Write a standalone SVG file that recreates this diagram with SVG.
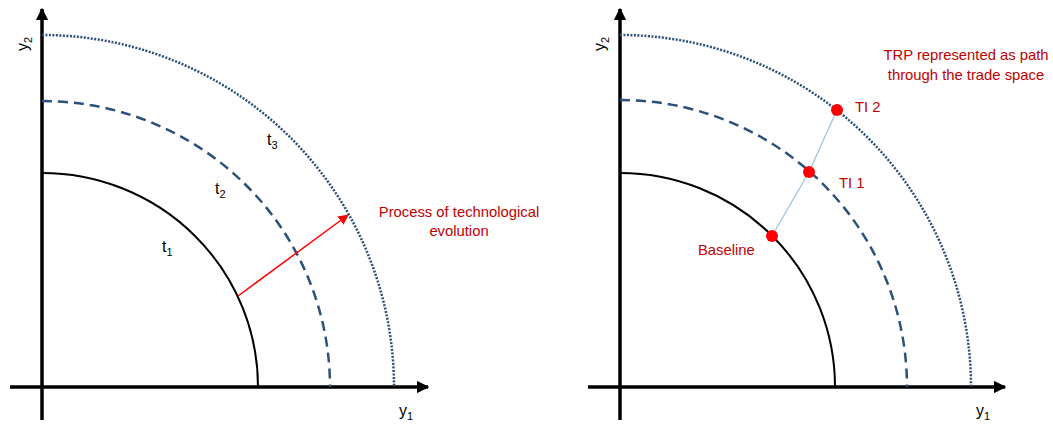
<svg xmlns="http://www.w3.org/2000/svg" width="1053" height="425" viewBox="0 0 1053 425">
<style>
.axis{stroke:#000;stroke-width:3.5;fill:none}
.solid{stroke:#000;stroke-width:2;fill:none}
.dash{stroke:#2B5079;stroke-width:2.5;fill:none;stroke-dasharray:10 6}
.dot{stroke:#2B5079;stroke-width:2.5;fill:none;stroke-dasharray:2 1.5}
.lbl{font-family:"Liberation Sans",Arial,sans-serif;font-size:16px;fill:#000}
.red{font-family:"Liberation Sans",Arial,sans-serif;font-size:14.8px;fill:#C00000}
.pt{fill:#FF0000}
</style>
<defs>
<marker id="ah" viewBox="0 0 10 10" refX="9" refY="5" markerWidth="3.6" markerHeight="3.6" orient="auto" markerUnits="strokeWidth">
<path d="M0,0 L10,5 L0,10 z" fill="#000"/>
</marker>
<marker id="rah" viewBox="0 0 10 10" refX="9" refY="5" markerWidth="7" markerHeight="7" orient="auto" markerUnits="strokeWidth">
<path d="M0,0 L10,5 L0,10 z" fill="#FF0000"/>
</marker>
</defs>
<g id="left-panel">
<g id="left-axes">
<line class="axis" x1="42" y1="420" x2="42" y2="9" marker-end="url(#ah)"/>
<line class="axis" x1="10" y1="387" x2="428" y2="387" marker-end="url(#ah)"/>
<text class="lbl" transform="translate(28,44) rotate(-90)" text-anchor="middle">y<tspan font-size="11" dy="4">2</tspan></text>
<text class="lbl" x="399" y="416">y<tspan font-size="11" dy="4">1</tspan></text>
</g>
<g id="left-t1"><path class="solid" d="M42,173 A216,214 0 0 1 258,387"/><text class="lbl" x="162" y="252">t<tspan font-size="11" dy="4">1</tspan></text></g>
<g id="left-t2"><path class="dash" d="M42,101 A288,286 0 0 1 330,387"/><text class="lbl" x="215" y="194">t<tspan font-size="11" dy="4">2</tspan></text></g>
<g id="left-t3"><path class="dot" d="M42,35 A352,352 0 0 1 394,387"/><text class="lbl" x="267" y="145">t<tspan font-size="11" dy="4">3</tspan></text></g>
<g id="left-connector"><line x1="238" y1="296" x2="348" y2="215" stroke="#FF0000" stroke-width="1.5" marker-end="url(#rah)"/></g>
<g id="left-label"><text class="red" text-anchor="middle"><tspan x="459" y="217">Process of technological</tspan><tspan x="459" y="236">evolution</tspan></text></g>
</g>
<g id="right-panel">
<g id="right-axes">
<line class="axis" x1="620" y1="420" x2="620" y2="9" marker-end="url(#ah)"/>
<line class="axis" x1="588" y1="387" x2="1005" y2="387" marker-end="url(#ah)"/>
<text class="lbl" transform="translate(605,44) rotate(-90)" text-anchor="middle">y<tspan font-size="11" dy="4">2</tspan></text>
<text class="lbl" x="976" y="416">y<tspan font-size="11" dy="4">1</tspan></text>
</g>
<g id="right-t1"><path class="solid" d="M620,173 A215,214 0 0 1 835,387"/></g>
<g id="right-t2"><path class="dash" d="M620,100 A287,287 0 0 1 907,387"/></g>
<g id="right-t3"><path class="dot" d="M620,35 A351,352 0 0 1 971,387"/></g>
<g id="connectors"><polyline points="772,236 809,172 837,110" fill="none" stroke="#9DC3E6" stroke-width="1.3"/></g>
<g id="baseline"><circle class="pt" cx="772" cy="236" r="6"/><text class="red" x="698" y="255">Baseline</text></g>
<g id="ti1"><circle class="pt" cx="809" cy="172" r="6"/><text class="red" x="839" y="188">TI 1</text></g>
<g id="ti2"><circle class="pt" cx="837" cy="110" r="6"/><text class="red" x="855" y="112">TI 2</text></g>
<g id="trp-label"><text class="red" text-anchor="middle"><tspan x="966" y="60">TRP represented as path</tspan><tspan x="966" y="80">through the trade space</tspan></text></g>
</g>
</svg>
